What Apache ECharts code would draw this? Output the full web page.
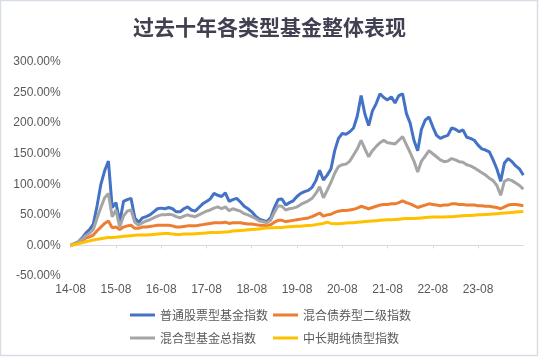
<!DOCTYPE html>
<html>
<head>
<meta charset="utf-8">
<script src="https://cdn.jsdelivr.net/npm/echarts@6/dist/echarts.min.js"></script>
<style>html,body{margin:0;padding:0;background:#fff;}#c{width:539px;height:357px;}</style>
</head>
<body>
<div id="c"></div>
<script>
const tickLabels = ['14-08','15-08','16-08','17-08','18-08','19-08','20-08','21-08','22-08','23-08'];
const seriesNames = ['普通股票型基金指数','混合债券型二级指数','混合型基金总指数','中长期纯债型指数'];
const stockIdx = [
0,3,6,12,20,26,35,65,100,122,
138,62,70,38,72,75,77,45,38,45,
47,50,55,60,61,60,62,60,55,55,
60,63,58,56,62,68,72,76,85,82,
80,86,72,75,77,71,64,60,55,48,
43,41,39,45,62,75,76,66,70,73,
80,85,88,90,95,106,123,107,115,125,
155,175,183,182,186,192,212,245,215,196,
220,232,248,242,238,243,233,245,248,216,
200,172,155,190,205,210,194,180,175,178,
180,192,190,186,189,177,175,172,164,158,
156,153,140,125,105,135,142,137,130,125,115];
const bondMix2Idx = [
0,2,4,7,12,14,17,24,30,36,
40,29,30,26,30,32,33,28,28,30,
30,31,32,33,33,33,33,32,30,30,
31,32,32,32,33,34,35,36,37,37,
37,38,36,37,37,37,36,35,35,34,
33,33,32,34,38,41,41,39,40,41,
42,43,44,45,47,50,53,48,50,51,
54,56,57,57,58,59,61,64,62,60,
62,64,66,67,67,68,68,70,73,70,
68,65,62,64,66,68,67,66,65,66,
66,68,68,67,67,66,66,66,65,65,
64,64,63,62,60,63,66,67,67,66,65];
const mixTotalIdx = [
0,3,6,10,16,20,26,45,62,78,
85,47,58,30,48,56,58,38,33,37,
40,42,45,48,50,50,51,50,47,45,
48,50,48,47,50,53,56,58,61,63,
60,63,57,60,58,56,52,50,47,44,
40,39,37,41,54,65,64,58,60,61,
63,67,70,73,77,85,96,78,90,103,
118,129,132,133,138,148,158,172,158,145,
155,162,168,172,168,167,166,172,178,165,
152,138,120,138,146,155,150,145,140,137,
138,142,140,137,136,132,130,127,123,119,
115,110,106,98,82,105,108,106,102,98,92];
const pureBondIdx = [
0,1.5,3,4.5,6,7.5,9,10,11,12,
13,13,13.5,14,15,15.5,16,16.5,17,17,
17,17.5,18,18.5,19,19.5,19.5,18.5,18,18,
18.5,18.5,18.5,19,19.5,20,20.5,21,21,21,
21.5,22,22.5,23.5,24,24.5,25,25.5,26,26.5,
27,28,28.5,29,29,29.5,29.5,30,30.5,31,
31.5,31.5,32,32.5,33,34,35,36,38,36,
35.5,35.5,36,36.5,37,37,38,38.5,39,39.5,
40,40.5,41,41.5,42,42,42.5,43,43.5,44,
44,44,44.5,45,45.5,46,46.5,46.5,46.5,46.5,
47,47,47.5,48,48.5,49,49,49.5,50,50,
50.5,51,51.5,52,52.5,53,53.5,54,54.5,55,55.5];

// monthly categories 14-08 .. 24-08
const categories = [];
for (let y = 14, m = 8; categories.length < stockIdx.length; ) {
  categories.push(String(y) + '-' + String(m).padStart(2, '0'));
  m++; if (m > 12) { m = 1; y++; }
}

const colors = ['#4472C4', '#ED7D31', '#A5A5A5', '#FFC000'];
const dataList = [stockIdx, bondMix2Idx, mixTotalIdx, pureBondIdx];
const cjk = '"Noto Sans CJK SC", "Microsoft YaHei", sans-serif';

const chart = echarts.init(document.getElementById('c'), null, {renderer: 'canvas'});
const legendPos = [[130, 309], [273, 309], [130, 332], [273, 332]];
chart.setOption({
  animation: false,
  backgroundColor: '#fff',
  color: colors,
  title: {
    text: '过去十年各类型基金整体表现',
    left: 'center', top: 12,
    textStyle: {fontFamily: cjk, fontSize: 21, fontWeight: 'bold', color: '#404050'}
  },
  legend: seriesNames.map((n, i) => ({
    data: [n], left: legendPos[i][0], top: legendPos[i][1],
    icon: 'rect', itemWidth: 25, itemHeight: 3, itemGap: 0, padding: 0,
    textStyle: {fontFamily: cjk, fontSize: 12, color: '#595959'}
  })),
  grid: {left: 70.7, right: 15.7, top: 62, bottom: 81, containLabel: false},
  xAxis: {
    type: 'category', data: categories, boundaryGap: false,
    axisLine: {lineStyle: {color: '#d9d9d9', width: 1}},
    axisTick: {show: true, length: 3, lineStyle: {color: '#d9d9d9'},
      interval: (idx) => idx % 12 === 0 && idx < 120},
    axisLabel: {
      interval: (idx) => idx % 12 === 0 && idx < 120,
      formatter: (v, idx) => tickLabels[idx / 12] || '',
      color: '#595959', fontSize: 12, margin: 8, fontFamily: 'Liberation Sans, Arial, sans-serif'
    },
    splitLine: {show: false}
  },
  yAxis: {
    type: 'value', min: -50, max: 300, interval: 50,
    axisLine: {show: false}, axisTick: {show: false}, splitLine: {show: false},
    axisLabel: {formatter: (v) => v.toFixed(2) + '%', color: '#595959', fontSize: 12, margin: 10,
      fontFamily: 'Liberation Sans, Arial, sans-serif'}
  },
  graphic: [{
    type: 'rect', shape: {x: 0.5, y: 0.5, width: 537, height: 355},
    style: {fill: 'none', stroke: '#d6dde6', lineWidth: 1.5}, silent: true
  }],
  series: seriesNames.map((n, i) => ({
    name: n, type: 'line', data: dataList[i], symbol: 'none', showSymbol: false,
    lineStyle: {width: 3, color: colors[i]}, itemStyle: {color: colors[i]},
    z: 2 + i
  }))
});
</script>
</body>
</html>
